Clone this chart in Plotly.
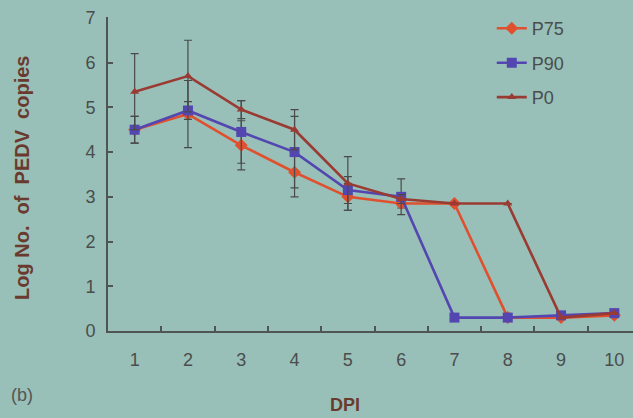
import plotly.graph_objects as go

dpi = [1, 2, 3, 4, 5, 6, 7, 8, 9, 10]
p75 = [4.5, 4.85, 4.15, 3.55, 3.0, 2.85, 2.85, 0.3, 0.3, 0.35]
p90 = [4.5, 4.93, 4.45, 4.0, 3.15, 3.0, 0.3, 0.3, 0.35, 0.4]
p0 = [5.35, 5.7, 4.95, 4.5, 3.3, 2.95, 2.85, 2.85, 0.3, 0.4]
p75_err = [0.3, 0.75, 0.55, 0.55, 0.3, 0.1, 0, 0, 0, 0]
p90_err = [0.3, 0.2, 0.7, 0.8, 0.3, 0.4, 0, 0, 0, 0]
p0_err = [0.85, 0.8, 0.2, 0.45, 0.6, 0.1, 0, 0, 0, 0]
y_ticks = [0, 1, 2, 3, 4, 5, 6, 7]

bg = "#98c0b8"
axis_col = "#4f5552"
err_col = "#4a4a4a"
txt_col = "#4a4d4c"

series = [
    ("P75", p75, p75_err, "#e0502e", "diamond", 10),
    ("P90", p90, p90_err, "#5446b0", "square", 10),
    ("P0", p0, p0_err, "#9a3b33", "triangle-up", 8),
]

fig = go.Figure()
for name, ys, errs, col, sym, sz in series:
    fig.add_trace(go.Scatter(
        x=dpi, y=ys, name=name, mode="lines+markers",
        line=dict(color=col, width=2.6),
        marker=dict(color=col, symbol=sym, size=sz),
        error_y=dict(type="data", array=errs, visible=True,
                     color=err_col, thickness=1.2, width=4),
        legendgroup=name,
    ))

tick_font = dict(family="Liberation Sans, Arial, sans-serif", size=18, color=txt_col)

fig.update_layout(
    width=633, height=418,
    paper_bgcolor=bg, plot_bgcolor=bg,
    margin=dict(l=108, r=0, t=17, b=87),
    font=dict(family="Liberation Sans, Arial, sans-serif", color=txt_col),
    showlegend=True,
    legend=dict(x=0.731, y=1.022, xanchor="left", yanchor="top",
                bgcolor="rgba(0,0,0,0)",
                font=dict(family="Liberation Sans, Arial, sans-serif",
                          size=18, color=txt_col),
                tracegroupgap=8, itemwidth=30),
    xaxis=dict(
        range=[0.5, 10.35], tickmode="array", tickvals=dpi,
        ticktext=[str(d) for d in dpi], ticks="",
        showline=True, linecolor=axis_col, linewidth=2,
        showgrid=False, zeroline=False,
        tickfont=tick_font,
        ticklabelstandoff=11,
        minor=dict(tickvals=[1.5, 2.5, 3.5, 4.5, 5.5, 6.5, 7.5, 8.5, 9.5],
                   ticks="inside", ticklen=5, tickcolor=axis_col, tickwidth=1.5,
                   showgrid=False),
    ),
    yaxis=dict(
        range=[0, 7.02], tickmode="array", tickvals=y_ticks,
        ticks="inside", ticklen=5, tickcolor=axis_col, tickwidth=1.5,
        showline=True, linecolor=axis_col, linewidth=2,
        showgrid=False, zeroline=False,
        tickfont=tick_font,
        ticklabelstandoff=7,
    ),
    annotations=[
        dict(text="<b>Log No.  of  PEDV  copies</b>", textangle=-90,
             xref="paper", yref="paper", x=-0.164, y=0.487,
             xanchor="center", yanchor="middle", showarrow=False,
             font=dict(size=20, color="#6b3a2e")),
        dict(text="<b>DPI</b>", xref="paper", yref="paper",
             x=0.451, y=-0.236, xanchor="center", yanchor="middle",
             showarrow=False, font=dict(size=18, color="#6b3a2e")),
        dict(text="(b)", xref="paper", yref="paper",
             x=-0.164, y=-0.204, xanchor="center", yanchor="middle",
             showarrow=False, font=dict(size=18, color="#555555")),
    ],
)

fig.write_html(
    "out.html",
    config={"displayModeBar": False},
    post_script="document.body.style.margin='0';document.body.style.background='%s';" % bg,
)
